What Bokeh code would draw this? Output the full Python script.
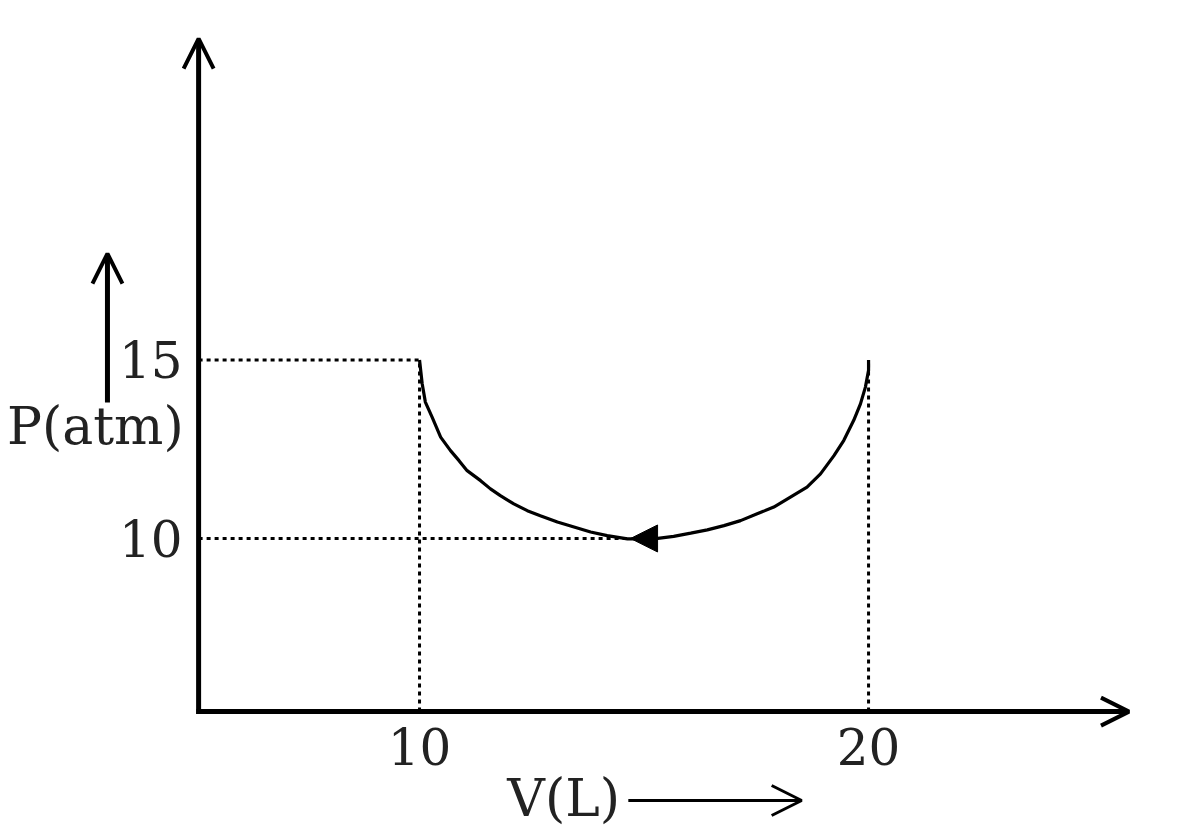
from bokeh.plotting import figure
from bokeh.models import Range1d, Arrow, OpenHead, NormalHead
from bokeh.core.properties import value
from bokeh.embed import file_html
from bokeh.resources import INLINE

# ---- data ----
V_ticks = [10, 20]          # V (L) tick labels
P_ticks = [10, 15]          # P (atm) tick labels
V_curve = [10.0, 10.06, 10.13, 10.28, 10.47, 10.69, 10.88, 11.06, 11.36, 11.58, 11.80,
           12.10, 12.40, 12.69, 13.07, 13.44, 13.81, 14.18, 14.63, 15.22, 15.66, 16.04,
           16.41, 16.78, 17.15, 17.52, 17.89, 18.26, 18.63, 18.93, 19.23, 19.45, 19.67,
           19.82, 19.93, 20.0, 20.0]
P_curve = [15.0, 14.33, 13.82, 13.40, 12.84, 12.46, 12.18, 11.90, 11.62, 11.39, 11.20,
           10.97, 10.78, 10.64, 10.46, 10.32, 10.18, 10.08, 9.99, 9.99, 10.06, 10.15,
           10.24, 10.36, 10.50, 10.69, 10.88, 11.16, 11.44, 11.81, 12.32, 12.75, 13.31,
           13.77, 14.24, 14.71, 15.0]
V_arrow_tip = 14.7          # where the direction arrow sits on the curve
P_min = 10
P_top = 15
V_left, V_right = 10, 20
V_origin, P_origin = 5.08, 5.15
V_axis_end, P_axis_end = 25.8, 24.0
title_texts = ["P(atm)", "V(L)"]
title_V = [2.78, 13.21]
title_P = [13.14, 2.73]

FONT = "DejaVu Serif"
TXT = "#222222"

p = figure(width=1190, height=830, output_backend="svg", toolbar_location=None,
           x_range=Range1d(0.668, 27.17), y_range=Range1d(1.82, 25.07),
           min_border=0)
p.outline_line_color = None
p.grid.visible = False
p.axis.visible = False
p.background_fill_color = "white"
p.border_fill_color = "white"

# dotted guide lines
dot = dict(line_color="black", line_width=3, line_dash="4 4")
p.line([V_left, V_left], [P_origin, P_top], **dot)
p.line([V_right, V_right], [P_origin, P_top], **dot)
p.line([V_origin, V_left], [P_top, P_top], **dot)
p.line([V_origin, V_arrow_tip], [P_min, P_min], **dot)

# process curve
p.line(V_curve, P_curve, line_color="black", line_width=3.2)

# direction arrow on the curve (pointing left)
p.add_layout(Arrow(end=NormalHead(size=27, fill_color="black", line_color="black", line_width=1),
                   x_start=V_arrow_tip + 0.6, y_start=P_min, x_end=V_arrow_tip, y_end=P_min,
                   line_alpha=0))

# axes drawn as arrows
p.add_layout(Arrow(end=OpenHead(size=28, line_width=4, line_color="black"),
                   x_start=V_origin - 0.05, y_start=P_origin, x_end=V_axis_end, y_end=P_origin,
                   line_width=5, line_color="black"))
p.add_layout(Arrow(end=OpenHead(size=30, line_width=4, line_color="black"),
                   x_start=V_origin, y_start=P_origin - 0.07, x_end=V_origin, y_end=P_axis_end,
                   line_width=5, line_color="black"))

# tick labels
p.text(x=V_ticks, y=[P_origin] * len(V_ticks), text=[str(t) for t in V_ticks],
       text_align="center", text_baseline="top", y_offset=16,
       text_font=value(FONT), text_font_size="50px", text_color=TXT)
p.text(x=[V_origin] * len(P_ticks), y=P_ticks, text=[str(t) for t in P_ticks],
       text_align="right", text_baseline="middle", x_offset=-16,
       text_font=value(FONT), text_font_size="50px", text_color=TXT)

# axis titles with their arrows
p.text(x=title_V, y=title_P, text=title_texts, text_align="center",
       text_baseline="middle", text_font=value(FONT), text_font_size="52px",
       text_color=TXT)
p.add_layout(Arrow(end=OpenHead(size=30, line_width=4, line_color="black"),
                   x_start=3.05, y_start=13.81, x_end=3.05, y_end=17.98,
                   line_width=5, line_color="black"))
p.add_layout(Arrow(end=OpenHead(size=30, line_width=3, line_color="black"),
                   x_start=14.65, y_start=2.66, x_end=18.51, y_end=2.66,
                   line_width=3, line_color="black"))

open("out.html", "w").write(file_html(p, INLINE))
